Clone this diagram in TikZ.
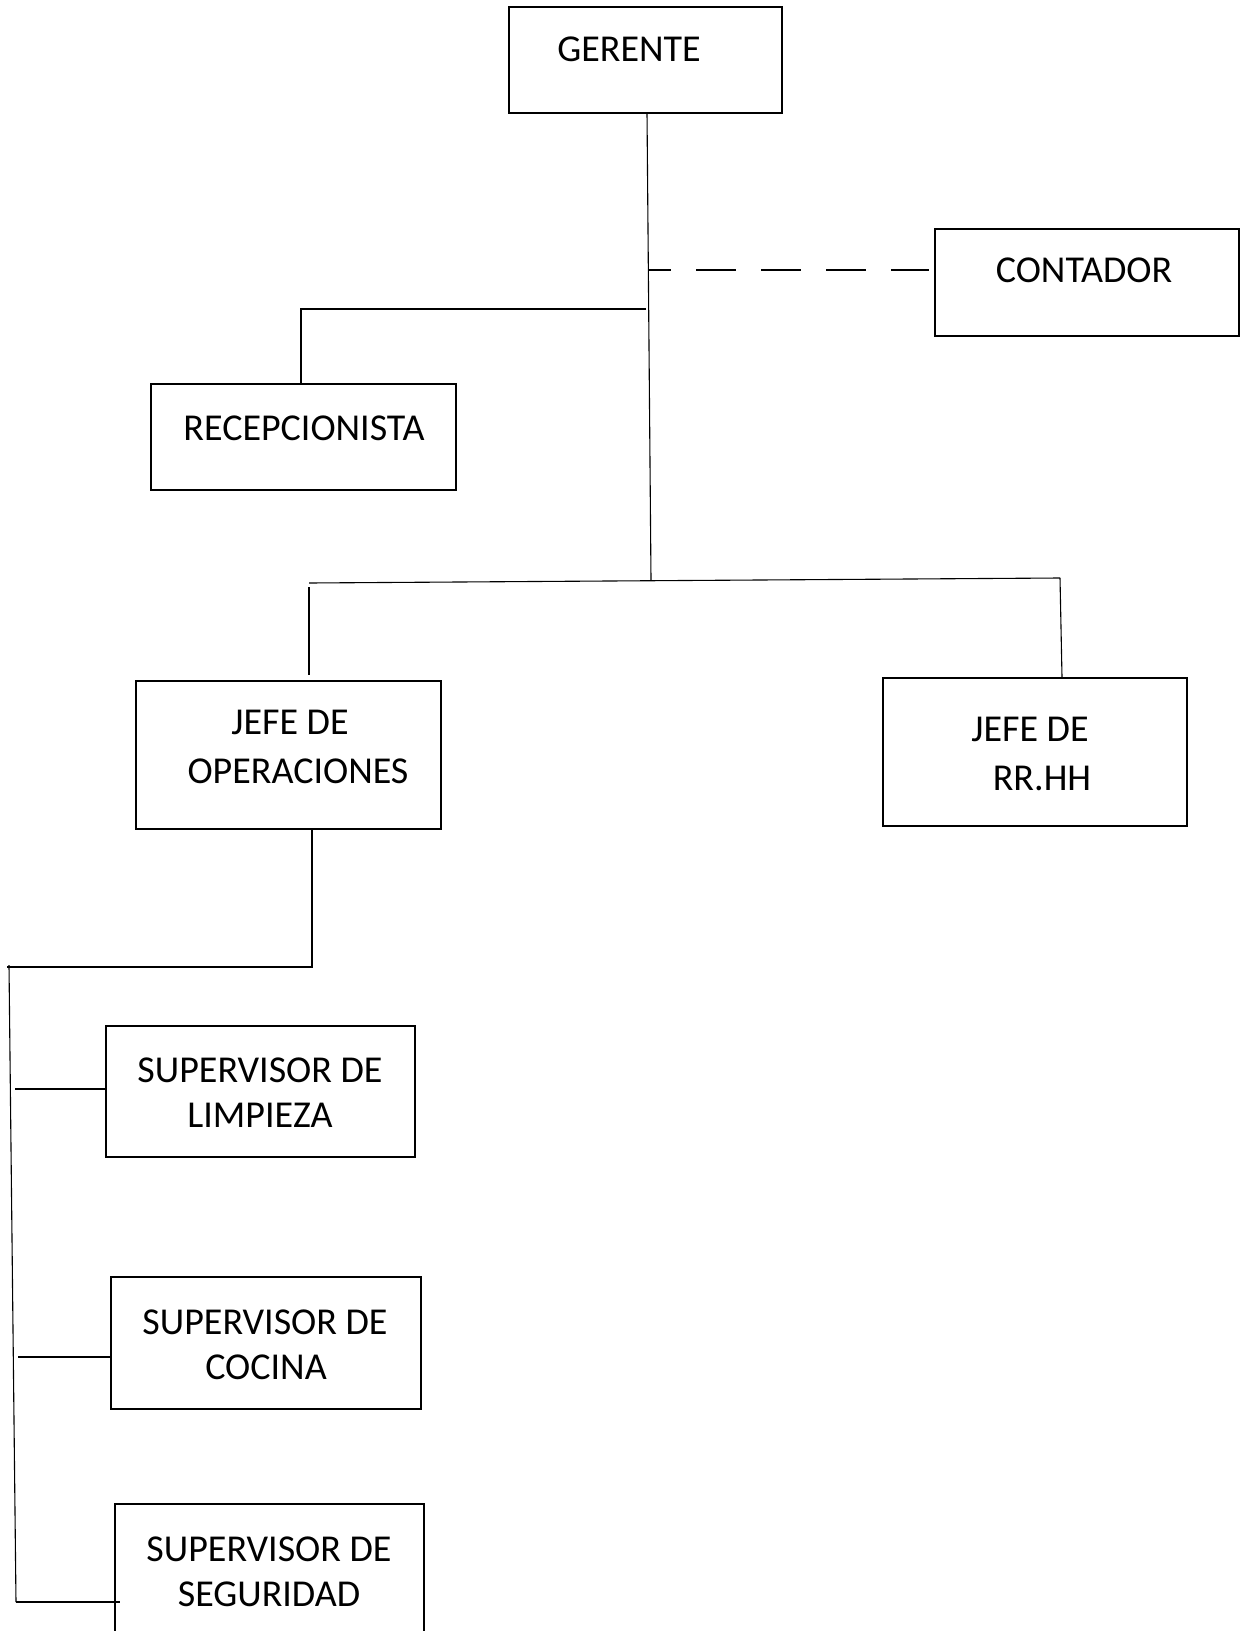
\documentclass[tikz,border=0pt]{standalone}
\usepackage{fontspec}
\setmainfont{Carlito}
\usetikzlibrary{calc}
\tikzset{
  box/.style={draw, line width=0.7pt, inner sep=0pt},
  lbl/.style={inner sep=0pt, text height=12.2pt, text depth=0pt, font=\fontsize{19pt}{23pt}\selectfont},
  conn/.style={line width=0.55pt},
  dconn/.style={line width=0.55pt, dash pattern=on 20pt off 12.5pt, dash phase=9pt}
}
\begin{document}
\begin{tikzpicture}[x=0.5pt,y=-0.5pt]
\useasboundingbox (0,0) rectangle (1240,1631);
\clip (0,0) rectangle (1240,1631);
% boxes
\node[box, minimum width=136.5pt, minimum height=53pt] (ger) at (645.5,60) {};
\node[box, minimum width=152pt, minimum height=53.5pt] (cont) at (1087,282.5) {};
\node[box, minimum width=152.5pt, minimum height=53pt] (rec) at (303.5,437) {};
\node[box, minimum width=152.5pt, minimum height=74pt] (ops) at (288.5,755) {};
\node[box, minimum width=152pt, minimum height=74pt] (rrhh) at (1035,752) {};
\node[box, minimum width=154.5pt, minimum height=65.5pt] (limp) at (260.5,1091.5) {};
\node[box, minimum width=155pt, minimum height=66pt] (coc) at (266,1343) {};
\node[box, minimum width=154.5pt, minimum height=66pt] (seg) at (269.5,1570) {};
% labels
\node[lbl] (tger) at (629,49) {GERENTE};
\node[lbl] (tcont) at (1084,270) {CONTADOR};
\node[lbl] (trec) at (304,428) {RECEPCIONISTA};
\node[lbl] (tops1) at (290,722) {JEFE DE};
\node[lbl] (tops2) at (298,771) {OPERACIONES};
\node[lbl] (trr1) at (1030,729) {JEFE DE};
\node[lbl] (trr2) at (1042,778) {RR.HH};
\node[lbl] (tlim1) at (260,1070) {SUPERVISOR DE};
\node[lbl] (tlim2) at (260,1115) {LIMPIEZA};
\node[lbl] (tcoc1) at (265,1322) {SUPERVISOR DE};
\node[lbl] (tcoc2) at (266,1367) {COCINA};
\node[lbl] (tseg1) at (269,1549) {SUPERVISOR DE};
\node[lbl] (tseg2) at (269,1594) {SEGURIDAD};
% junction coordinates
\coordinate (t0) at (647,113);
\coordinate (t1) at (651,580);
\coordinate (d1) at (649,270);
\coordinate (r1) at (646,309);
\coordinate (r2) at (301,309);
\coordinate (h1) at (309,583);
\coordinate (h2) at (1060,578);
\coordinate (o1) at (312,829);
\coordinate (k1) at (312,967);
\coordinate (k0) at (7,967);
\coordinate (v0) at (9,965);
\coordinate (v1) at (16,1602);
\coordinate (b1) at (15,1089);
\coordinate (b2) at (18,1357);
\coordinate (b3) at (16,1602);
% connectors
\draw[conn] (t0) -- (t1);
\draw[dconn] (d1) -- ($(d1 -| cont.west)+(-5,0)$);
\draw[conn] (r1) -- (r2) -- (r2 |- rec.north);
\draw[conn] (h1) -- (h2);
\draw[conn] ($(h1)+(0,4)$) -- ($(h1 |- ops.north)+(0,-5)$);
\draw[conn] (h2) -- ($(h2 |- rrhh.north)+(2,0)$);
\draw[conn] (o1) -- (k1) -- (k0);
\draw[conn] (v0) -- (v1);
\draw[conn] (b1) -- (b1 -| limp.west);
\draw[conn] (b2) -- (b2 -| coc.west);
\draw[conn] (b3) -- ($(b3 -| seg.west)+(6,0)$);
\end{tikzpicture}
\end{document}
